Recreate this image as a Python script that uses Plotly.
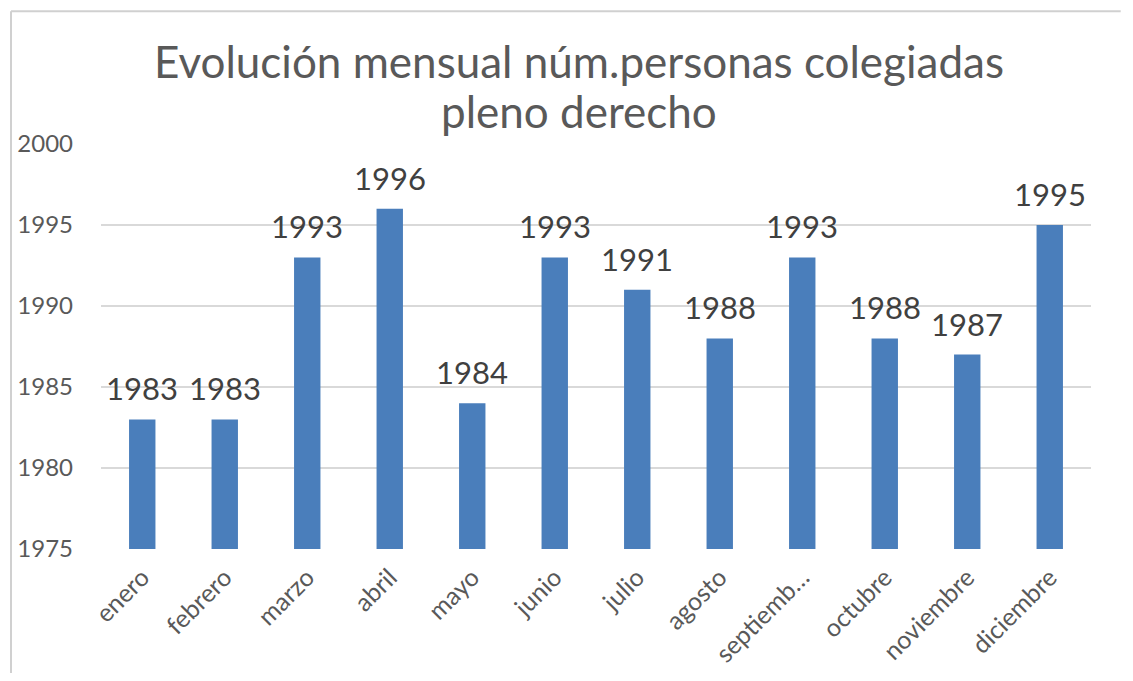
import plotly.graph_objects as go

months = ["enero", "febrero", "marzo", "abril", "mayo", "junio", "julio",
          "agosto", "septiembre", "octubre", "noviembre", "diciembre"]
tick_labels = ["enero", "febrero", "marzo", "abril", "mayo", "junio", "julio",
               "agosto", "septiemb…", "octubre", "noviembre", "diciembre"]
values = [1983, 1983, 1993, 1996, 1984, 1993, 1991, 1988, 1993, 1988, 1987, 1995]
y_ticks = [1975, 1980, 1985, 1990, 1995, 2000]
title_lines = ["Evolución mensual núm.personas colegiadas", "pleno derecho"]

FONT = "Lato, Carlito, Calibri, sans-serif"

fig = go.Figure(go.Bar(
    x=months, y=values,
    marker=dict(color="#4a7ebb", line=dict(width=0)),
    cliponaxis=False,
))

annotations = []
for txt, yy in zip(title_lines, [1.205, 1.081]):
    annotations.append(dict(
        text=txt, xref="paper", yref="paper", x=0.483, y=yy,
        xanchor="center", yanchor="middle", showarrow=False,
        font=dict(family=FONT, size=44, color="#595959"),
    ))

# data labels placed at each bar's value through the axis scales
for m, v in zip(months, values):
    annotations.append(dict(
        text=str(v), x=m, y=v, xref="x", yref="y",
        xanchor="center", yanchor="middle", yshift=31, showarrow=False,
        font=dict(family=FONT, size=31, color="#404040"),
    ))

fig.update_layout(
    width=1117, height=665,
    paper_bgcolor="white", plot_bgcolor="white",
    margin=dict(l=93, r=34, t=136, b=124, autoexpand=False),
    bargap=0.68,
    showlegend=False,
    annotations=annotations,
    xaxis=dict(
        tickmode="array", tickvals=months, ticktext=tick_labels,
        tickangle=-45, tickfont=dict(family=FONT, size=25, color="#595959"),
        showgrid=False, showline=False, ticks="", automargin=False,
        ticklabelstandoff=8,
    ),
    yaxis=dict(
        range=[1975, 2000], tickmode="array", tickvals=y_ticks,
        tickfont=dict(family=FONT, size=24, color="#595959"),
        showgrid=True, gridcolor="#d9d9d9", gridwidth=1.5,
        zeroline=False, showline=False, ticks="", ticklabelstandoff=27,
        automargin=False,
    ),
    shapes=[
        dict(type="line", xref="paper", yref="paper",
             x0=-0.0909, x1=1.03, y0=1.328, y1=1.328,
             line=dict(color="#d0d0d0", width=2)),
        dict(type="line", xref="paper", yref="paper",
             x0=-0.0909, x1=-0.0909, y0=1.328, y1=-0.32,
             line=dict(color="#d0d0d0", width=2)),
    ],
)

fig.write_html("out.html", config={"displayModeBar": False})
